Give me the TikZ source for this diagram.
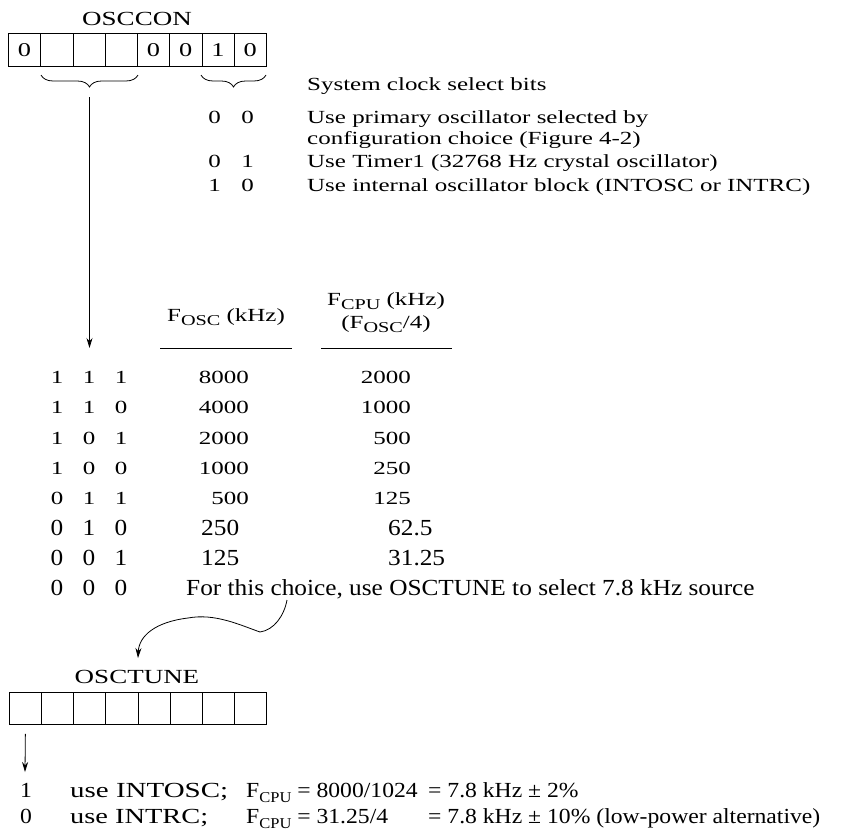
\documentclass[tikz,border=0pt]{standalone}
\usepackage{fontspec}
\usepackage{graphicx}
\setmainfont{Liberation Serif}[FakeStretch=1.35]
\newfontfamily\botf{Liberation Serif}[FakeStretch=1.1]
\usetikzlibrary{arrows.meta,decorations.pathreplacing}
\newcommand\mysub[1]{\raisebox{-0.24em}{\fontsize{15}{15}\selectfont #1}}
\newcommand\fitw[2]{\resizebox{#1}{\height}{#2}}
\begin{document}
\begin{tikzpicture}[x=1pt,y=-1pt,
  txt/.style={inner sep=0pt, font=\fontsize{18.5}{22}\selectfont},
  lowtxt/.style={inner sep=0pt, font=\botf\fontsize{23}{26}\selectfont},
  bottxt/.style={inner sep=0pt, font=\botf\fontsize{21.5}{24}\selectfont},
  cell/.style={draw, line width=0.8pt, minimum width=32.25pt, minimum height=33pt, inner sep=0pt, anchor=north west, font=\fontsize{19.5}{22}\selectfont},
  tcell/.style={draw, line width=0.8pt, minimum width=32.125pt, minimum height=32pt, inner sep=0pt, anchor=north west},
  arr/.style={line width=0.8pt, -{Stealth[length=10pt,width=6pt]}},
  brc/.style={line width=0.8pt, decorate, decoration={brace, amplitude=12pt}},
  rule/.style={line width=0.8pt}]
\useasboundingbox (0,0) rectangle (846,830);

% OSCCON register
\node[txt, anchor=base, font=\fontsize{20}{22}\selectfont] (oscconlbl) at (137,25) {OSCCON};
\foreach \i/\b in {0/0,1/,2/,3/,4/0,5/0,6/1,7/0}
  \node[cell] (c\i) at ({8+\i*32.25},33) {\b};

% braces
\coordinate (bla) at (138,75);
\coordinate (blb) at (41,75);
\coordinate (bra) at (266,75);
\coordinate (brb) at (201,75);
\draw[brc] (bla) -- (blb);
\draw[brc] (bra) -- (brb);

% vertical arrow from left brace
\coordinate (btip) at (89.5,90);
\coordinate (aend) at (89.5,348);
\draw[arr, shorten <=7pt] (btip) -- (aend);

% system clock select bits
\node[txt, anchor=base west] (sys) at (307,90) {System clock select bits};
\node[txt, anchor=base] (p1a) at (214.5,123) {0};
\node[txt, anchor=base] (p1b) at (247.5,123) {0};
\node[txt, anchor=base west] (d1) at (307,123) {Use primary oscillator selected by};
\node[txt, anchor=base west] (d1b) at (307,144) {configuration choice (Figure 4-2)};
\node[txt, anchor=base] (p2a) at (214.5,167) {0};
\node[txt, anchor=base] (p2b) at (247.5,167) {1};
\node[txt, anchor=base west] (d2) at (307,167) {Use Timer1 (32768 Hz crystal oscillator)};
\node[txt, anchor=base] (p3a) at (214.5,191) {1};
\node[txt, anchor=base] (p3b) at (247.5,191) {0};
\node[txt, anchor=base west] (d3) at (307,191) {Use internal oscillator block (INTOSC or INTRC)};

% table headers
\node[txt, anchor=base] (hosc) at (226,321) {F\mysub{OSC} (kHz)};
\node[txt, anchor=base] (hcpu1) at (386,305) {F\mysub{CPU} (kHz)};
\node[txt, anchor=base] (hcpu2) at (386,328) {(F\mysub{OSC}/4)};
\draw[rule] (160,348) -- (292,348);
\draw[rule] (321,348) -- (452,348);

% table rows (upper)
\foreach \a/\b/\c/\fo/\fc [count=\k from 0] in
  {1/1/1/8000/2000, 1/1/0/4000/1000, 1/0/1/2000/500, 1/0/0/1000/250, 0/1/1/500/125} {
  \node[txt, anchor=base] (ra\k) at (57,{383.5+30.3*\k}) {\a};
  \node[txt, anchor=base] (rb\k) at (89,{383.5+30.3*\k}) {\b};
  \node[txt, anchor=base] (rc\k) at (121,{383.5+30.3*\k}) {\c};
  \node[txt, anchor=base east] (ro\k) at (249,{383.5+30.3*\k}) {\fo};
  \node[txt, anchor=base east] (rp\k) at (411,{383.5+30.3*\k}) {\fc};
}
% table rows (lower)
\node[lowtxt, anchor=base] (ra5) at (57,535) {0};
\node[lowtxt, anchor=base] (rb5) at (89,535) {1};
\node[lowtxt, anchor=base] (rc5) at (121,535) {0};
\node[lowtxt, anchor=base west] (ro5) at (201,535) {250};
\node[lowtxt, anchor=base west] (rp5) at (388,535) {62.5};
\node[lowtxt, anchor=base] (ra6) at (57,565.3) {0};
\node[lowtxt, anchor=base] (rb6) at (89,565.3) {0};
\node[lowtxt, anchor=base] (rc6) at (121,565.3) {1};
\node[lowtxt, anchor=base west] (ro6) at (201,565.3) {125};
\node[lowtxt, anchor=base west] (rp6) at (388,565.3) {31.25};
\node[lowtxt, anchor=base] (ra7) at (57,595.6) {0};
\node[lowtxt, anchor=base] (rb7) at (89,595.6) {0};
\node[lowtxt, anchor=base] (rc7) at (121,595.6) {0};
\node[lowtxt, anchor=base west] (choice) at (186,595.6) {For this choice, use OSCTUNE to select 7.8 kHz source};

% OSCTUNE register
\node[txt, anchor=base, font=\fontsize{20}{22}\selectfont] (osctunelbl) at (137,683) {OSCTUNE};
\foreach \i in {0,...,7}
  \node[tcell] (t\i) at ({9+\i*32.125},692) {};

% curved arrow from the choice text to OSCTUNE
\coordinate (cstart) at (287,600);
\coordinate (cj) at (260,632);
\coordinate (ctop) at (188,618);
\coordinate (cend) at (138,658);
\draw[arr] (cstart) .. controls (284,616) and (274,630) .. (cj)
  .. controls (240,625) and (215,613) .. (ctop)
  .. controls (155,622) and (139,636) .. (cend);

% arrow below OSCTUNE bit 0
\coordinate (tend) at (25,772);
\draw[arr, shorten <=9pt] (t0.south) -- (tend);

% bottom lines
\node[bottxt, anchor=base] (v1) at (26,797) {1};
\node[bottxt, anchor=base] (v0) at (26,823) {0};
\node[bottxt, anchor=base west] (u1) at (70,797) {\fitw{158pt}{use INTOSC;}};
\node[bottxt, anchor=base west] (f1) at (246,797) {F\mysub{CPU} = 8000/1024};
\node[bottxt, anchor=base west] (e1) at (428,797) {= 7.8 kHz ± 2\%};
\node[bottxt, anchor=base west] (u0) at (70,823) {\fitw{138pt}{use INTRC;}};
\node[bottxt, anchor=base west] (f0) at (246,823) {F\mysub{CPU} = 31.25/4};
\node[bottxt, anchor=base west] (e0) at (428,823) {= 7.8 kHz ± 10\% (low-power alternative)};
\end{tikzpicture}
\end{document}
